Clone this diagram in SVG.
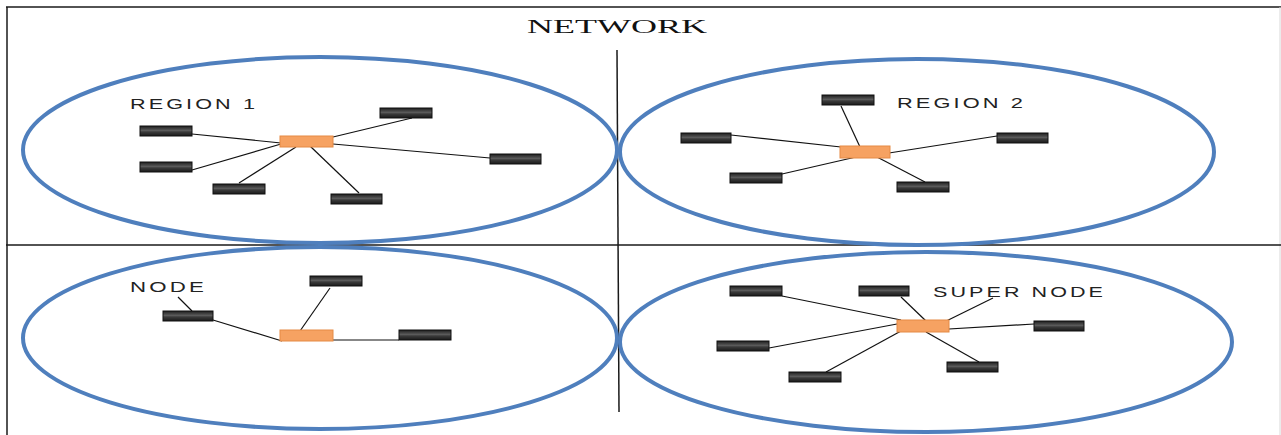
<svg xmlns="http://www.w3.org/2000/svg" width="1281" height="435" viewBox="0 0 1281 435">
  <style>
    .frame { stroke: #1a1a1a; stroke-width: 1.5; fill: none; }
    .region { fill: none; stroke: #4f7fbd; stroke-width: 4; }
    .node { fill: url(#nodeFill); stroke: #111; stroke-width: 1; }
    .super { fill: #f6a262; stroke: #e58a45; stroke-width: 1; }
    .link { stroke: #111; stroke-width: 1.2; fill: none; }
    .label { font-family: "Liberation Sans", "DejaVu Sans", Arial, sans-serif; font-size: 14px; fill: #222; letter-spacing: 2px; }
    .title { font-family: "Liberation Serif", "Times New Roman", serif; font-size: 19px; fill: #111; }
  </style>
  <defs>
    <linearGradient id="nodeFill" x1="0" y1="0" x2="0" y2="1">
      <stop offset="0" stop-color="#1e1e1e"/>
      <stop offset="0.45" stop-color="#5a5a5a"/>
      <stop offset="0.6" stop-color="#3a3a3a"/>
      <stop offset="1" stop-color="#1a1a1a"/>
    </linearGradient>
  </defs>

  <rect x="0" y="0" width="1281" height="435" fill="#ffffff"/>

  <!-- outer frame and quadrant dividers -->
  <g id="frame">
    <line class="frame" x1="6" y1="7" x2="1281" y2="7"/>
    <line class="frame" x1="7" y1="7" x2="7" y2="435"/>
    <line x1="1280" y1="7" x2="1280" y2="435" stroke="#d8d8d8" stroke-width="1"/>
    <line class="frame" x1="6" y1="245" x2="1281" y2="245"/>
    <line class="frame" x1="617" y1="50" x2="619" y2="412"/>
    <text class="title" x="527" y="33" textLength="180" lengthAdjust="spacingAndGlyphs">NETWORK</text>
  </g>

  <!-- region boundaries -->
  <g id="regions">
    <ellipse id="region1" class="region" cx="320" cy="150" rx="297" ry="93"/>
    <ellipse id="region2" class="region" cx="917" cy="152" rx="297" ry="93"/>
    <ellipse id="region3" class="region" cx="320" cy="338" rx="297" ry="91"/>
    <ellipse id="region4" class="region" cx="926" cy="342" rx="306" ry="90"/>
  </g>

  <!-- connectors -->
  <g id="connectors">
    <!-- region 1 -->
    <line class="link" x1="192" y1="134" x2="281" y2="143"/>
    <line class="link" x1="192" y1="170" x2="281" y2="144"/>
    <line class="link" x1="239" y1="183" x2="296" y2="147"/>
    <line class="link" x1="359" y1="193" x2="310" y2="146"/>
    <line class="link" x1="412" y1="118" x2="333" y2="137"/>
    <line class="link" x1="490" y1="158" x2="333" y2="144"/>
    <!-- region 2 -->
    <line class="link" x1="841" y1="106" x2="860" y2="147"/>
    <line class="link" x1="731" y1="135" x2="841" y2="147"/>
    <line class="link" x1="782" y1="174" x2="856" y2="157"/>
    <line class="link" x1="925" y1="182" x2="877" y2="157"/>
    <line class="link" x1="997" y1="136" x2="889" y2="153"/>
    <!-- region 3 -->
    <line class="link" x1="213" y1="320" x2="282" y2="341"/>
    <line class="link" x1="330" y1="288" x2="300" y2="331"/>
    <line class="link" x1="333" y1="340" x2="399" y2="340"/>
    <line class="link" x1="178" y1="297" x2="192" y2="311"/>
    <!-- region 4 -->
    <line class="link" x1="782" y1="296" x2="901" y2="320"/>
    <line class="link" x1="901" y1="297" x2="926" y2="321"/>
    <line class="link" x1="1034" y1="324" x2="932" y2="330"/>
    <line class="link" x1="769" y1="348" x2="897" y2="324"/>
    <line class="link" x1="826" y1="372" x2="901" y2="331"/>
    <line class="link" x1="979" y1="362" x2="926" y2="332"/>
    <line class="link" x1="993" y1="298" x2="926" y2="331"/>
  </g>

  <!-- region 1 nodes -->
  <g id="r1-super"><rect class="super" x="280" y="136" width="53" height="11"/></g>
  <g id="r1-n1"><rect class="node" x="140" y="126" width="52" height="10"/></g>
  <g id="r1-n2"><rect class="node" x="140" y="162" width="52" height="10"/></g>
  <g id="r1-n3"><rect class="node" x="213" y="184" width="52" height="10"/></g>
  <g id="r1-n4"><rect class="node" x="331" y="194" width="51" height="10"/></g>
  <g id="r1-n5"><rect class="node" x="380" y="108" width="52" height="10"/></g>
  <g id="r1-n6"><rect class="node" x="490" y="154" width="51" height="10"/></g>
  <g id="r1-label"><text class="label" x="130" y="109" textLength="128" lengthAdjust="spacingAndGlyphs">REGION 1</text></g>

  <!-- region 2 nodes -->
  <g id="r2-super"><rect class="super" x="840" y="146" width="50" height="12"/></g>
  <g id="r2-n1"><rect class="node" x="822" y="95" width="52" height="10"/></g>
  <g id="r2-n2"><rect class="node" x="681" y="133" width="50" height="10"/></g>
  <g id="r2-n3"><rect class="node" x="730" y="173" width="52" height="10"/></g>
  <g id="r2-n4"><rect class="node" x="897" y="182" width="52" height="10"/></g>
  <g id="r2-n5"><rect class="node" x="997" y="133" width="51" height="10"/></g>
  <g id="r2-label"><text class="label" x="897" y="108" textLength="129" lengthAdjust="spacingAndGlyphs">REGION 2</text></g>

  <!-- region 3 nodes -->
  <g id="r3-super"><rect class="super" x="280" y="330" width="53" height="11"/></g>
  <g id="r3-n1"><rect class="node" x="163" y="311" width="50" height="10"/></g>
  <g id="r3-n2"><rect class="node" x="310" y="276" width="52" height="10"/></g>
  <g id="r3-n3"><rect class="node" x="399" y="330" width="52" height="10"/></g>
  <g id="r3-label"><text class="label" x="130" y="292" textLength="77" lengthAdjust="spacingAndGlyphs">NODE</text></g>

  <!-- region 4 nodes -->
  <g id="r4-super"><rect class="super" x="897" y="320" width="52" height="12"/></g>
  <g id="r4-n1"><rect class="node" x="730" y="286" width="52" height="10"/></g>
  <g id="r4-n2"><rect class="node" x="859" y="286" width="50" height="10"/></g>
  <g id="r4-n3"><rect class="node" x="1034" y="321" width="50" height="10"/></g>
  <g id="r4-n4"><rect class="node" x="717" y="341" width="52" height="10"/></g>
  <g id="r4-n5"><rect class="node" x="789" y="372" width="52" height="10"/></g>
  <g id="r4-n6"><rect class="node" x="947" y="362" width="51" height="10"/></g>
  <g id="r4-label"><text class="label" x="933" y="297" textLength="173" lengthAdjust="spacingAndGlyphs">SUPER NODE</text></g>
</svg>
